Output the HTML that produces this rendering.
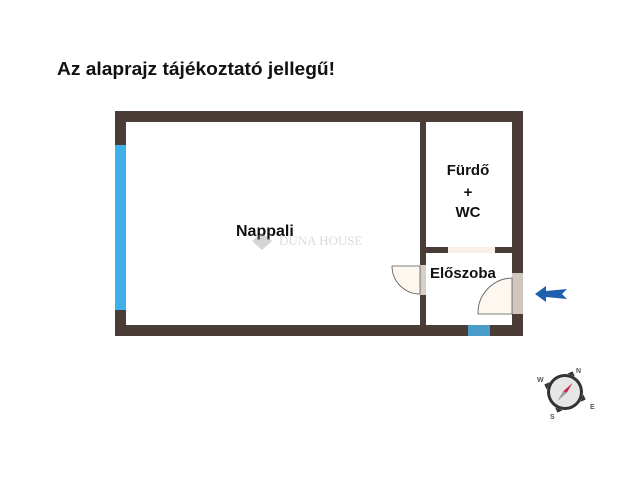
<!DOCTYPE html>
<html><head><style>
body{margin:0;background:#fff;}
svg{display:block}
text{font-family:"Liberation Sans",sans-serif;font-weight:bold}
</style></head><body>
<svg width="640" height="480" viewBox="0 0 640 480" xmlns="http://www.w3.org/2000/svg">
<rect width="640" height="480" fill="#fff"/>
<text x="57" y="75" font-size="18" fill="#111" textLength="278" lengthAdjust="spacingAndGlyphs">Az alaprajz tájékoztató jellegű!</text>
<g fill="#4a3d37">
<rect x="115" y="111" width="408" height="11"/>
<rect x="115" y="325" width="408" height="11"/>
<rect x="115" y="111" width="11" height="225"/>
<rect x="512" y="111" width="11" height="225"/>
<rect x="420" y="111" width="6" height="225"/>
<rect x="420" y="247" width="92" height="6"/>
</g>
<rect x="448" y="247" width="47" height="6" fill="#fbeee4"/>
<rect x="115" y="145" width="11" height="165" fill="#3fb0ea"/>
<rect x="468" y="325" width="22" height="11" fill="#4a9cc9"/>
<rect x="420" y="265" width="6" height="30" fill="#d7cec6"/>
<path d="M420,266 L392,266 A28,28 0 0 0 420,294 Z" fill="#fdf7f0" stroke="#555" stroke-width="0.8"/>
<rect x="512" y="273" width="11" height="41" fill="#cfc6be"/>
<path d="M512,314 L478,314 A35,35 0 0 1 512,278 Z" fill="#fdf7f0" stroke="#555" stroke-width="0.8"/>
<text x="236" y="236" font-size="16" fill="#111">Nappali</text>
<g opacity="0.35">
<path d="M262,233 L272,241 L262,250 L252,241 Z" fill="#888"/>
<text x="279" y="245" font-size="13" fill="#999" style="font-family:'Liberation Serif',serif;font-weight:normal">DUNA HOUSE</text>
</g>
<text x="468" y="175" font-size="15" fill="#111" text-anchor="middle">Fürdő</text>
<text x="468" y="197" font-size="15" fill="#111" text-anchor="middle">+</text>
<text x="468" y="217" font-size="15" fill="#111" text-anchor="middle">WC</text>
<text x="430" y="278" font-size="15" fill="#111">Előszoba</text>
<path d="M535,294 L546,286 L546,291 L567,289 L562,294 L567,299 L546,297 L546,302 Z" fill="#1e5fae"/>
<g transform="translate(565,392) rotate(20)">
<path d="M0,-22 L4,-18 L-4,-18 Z M0,22 L4,18 L-4,18 Z M-22,0 L-18,4 L-18,-4 Z M22,0 L18,4 L18,-4 Z" fill="#333"/>
<circle r="18" fill="#333"/>
<circle r="15" fill="#e6e6e6"/>
<path d="M4,-11 L2,0 L-2,0 Z" fill="#c8264e"/>
<path d="M2,0 L-2,0 L-4,11 Z" fill="#999"/>
</g>
<text x="576" y="373" font-size="7" fill="#555" font-weight="normal">N</text>
<text x="537" y="382" font-size="7" fill="#555" font-weight="normal">W</text>
<text x="550" y="419" font-size="7" fill="#555" font-weight="normal">S</text>
<text x="590" y="409" font-size="7" fill="#555" font-weight="normal">E</text>
</svg>
</body></html>
